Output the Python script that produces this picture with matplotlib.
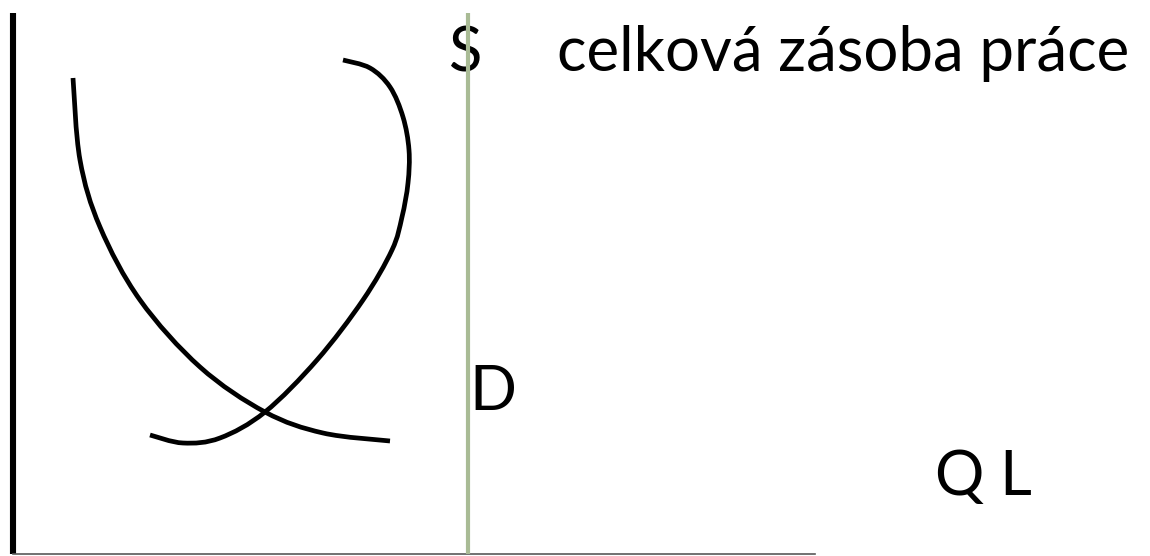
import matplotlib
matplotlib.use("Agg")
import matplotlib.pyplot as plt
import numpy as np
from matplotlib.path import Path
from matplotlib.patches import PathPatch

# Curves (x = quantity position, y = wage position; screen-like units, y grows downward)
demand_x = [73, 80, 100, 140, 200, 265, 323, 390]
demand_y = [78, 160, 227, 300, 367, 412, 433, 441]

supply_x = [150, 183, 220, 265, 317, 363, 392, 402, 408, 409, 403, 390, 370, 343]
supply_y = [435, 443, 438, 412, 360, 300, 250, 217, 183, 150, 117, 87, 68, 60]

total_labour_x = 468  # vertical line: celková zásoba práce

labels = {
    "S": (448, 71),
    "celková zásoba práce": (557, 71),
    "D": (469, 410),
    "Q L": (935, 495),
}


def smooth_path(xs, ys):
    """Cubic Bezier path passing through every read point (Catmull-Rom tangents)."""
    p = np.column_stack([xs, ys]).astype(float)
    n = len(p)
    verts = [p[0]]
    codes = [Path.MOVETO]
    for i in range(n - 1):
        p0 = p[i - 1] if i > 0 else p[i]
        p1, p2 = p[i], p[i + 1]
        p3 = p[i + 2] if i + 2 < n else p[i + 1]
        c1 = p1 + (p2 - p0) / 6.0
        c2 = p2 - (p3 - p1) / 6.0
        verts += [c1, c2, p2]
        codes += [Path.CURVE4] * 3
    return Path(verts, codes)


W, H = 1150, 556
fig = plt.figure(figsize=(W / 100, H / 100), dpi=100)
left, right, top, bottom = 13, 815, 13, 554
ax = fig.add_axes([left / W, (H - bottom) / H, (right - left) / W, (bottom - top) / H])
ax.set_xlim(left, right)
ax.set_ylim(bottom, top)
ax.set_facecolor("none")
for s in ("top", "right"):
    ax.spines[s].set_visible(False)
ax.spines["left"].set_linewidth(4.4)
ax.spines["left"].set_color("black")
ax.spines["left"].set_capstyle("butt")
ax.spines["bottom"].set_linewidth(1.2)
ax.spines["bottom"].set_color("#595959")
ax.set_xticks([])
ax.set_yticks([])

for xs, ys in ((demand_x, demand_y), (supply_x, supply_y)):
    ax.add_patch(PathPatch(smooth_path(xs, ys), facecolor="none", edgecolor="black",
                           lw=3.4, capstyle="butt", joinstyle="round"))
ax.axvline(total_labour_x, color="#A9BB95", lw=3.0, zorder=5)

for txt, (x, y) in labels.items():
    ax.text(x, y, txt, fontsize=44.5, family=["Lato", "DejaVu Sans"], ha="left", va="baseline",
            color="black", clip_on=False, zorder=4)

fig.savefig("out.png", dpi=100, facecolor="white")
